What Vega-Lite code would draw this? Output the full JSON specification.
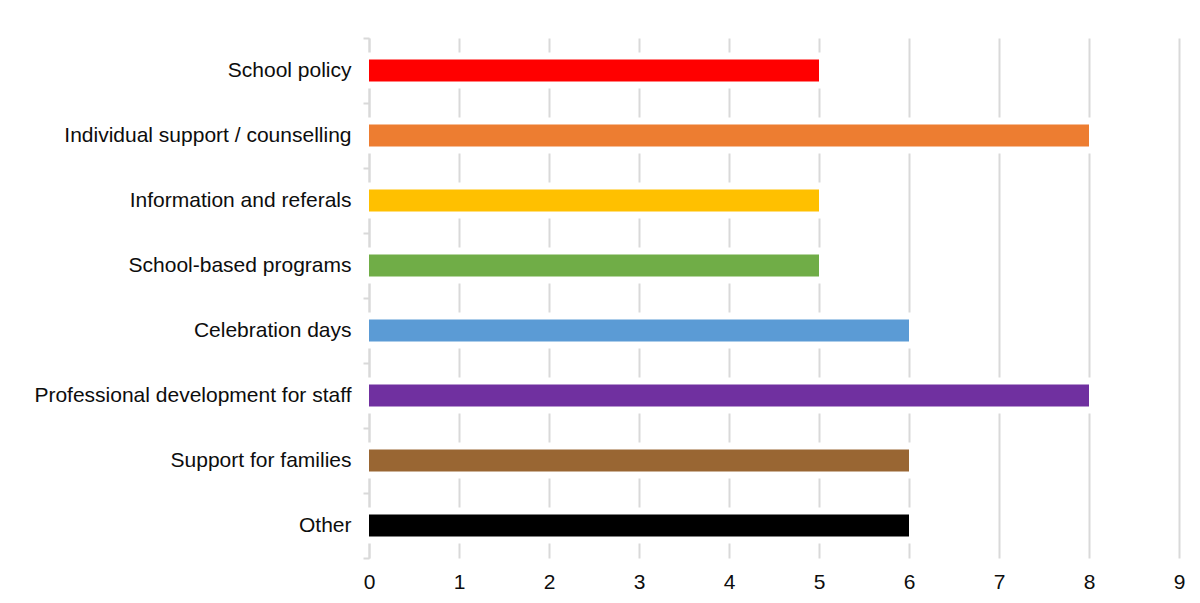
{
  "$schema": "https://vega.github.io/schema/vega-lite/v6.json",
  "width": 810,
  "height": 520,
  "autosize": {"type": "none"},
  "padding": {"left": 369, "top": 38, "right": 21, "bottom": 45},
  "background": "white",
  "config": {
    "view": {"stroke": null},
    "font": "Liberation Sans"
  },
  "data": {
    "values": [
      {"category": "School policy", "value": 5, "color": "#FF0000"},
      {"category": "Individual support / counselling", "value": 8, "color": "#ED7D31"},
      {"category": "Information and referals", "value": 5, "color": "#FFC000"},
      {"category": "School-based programs", "value": 5, "color": "#70AD47"},
      {"category": "Celebration days", "value": 6, "color": "#5B9BD5"},
      {"category": "Professional development for staff", "value": 8, "color": "#7030A0"},
      {"category": "Support for families", "value": 6, "color": "#996633"},
      {"category": "Other", "value": 6, "color": "#000000"}
    ]
  },
  "encoding": {
    "y": {
      "field": "category",
      "type": "nominal",
      "sort": null,
      "scale": {"paddingInner": 0, "paddingOuter": 0},
      "axis": {
        "title": null,
        "tickBand": "extent",
        "domainColor": "#d9d9d9",
        "domainWidth": 2,
        "tickColor": "#d9d9d9",
        "tickWidth": 2,
        "tickSize": 6,
        "labelFontSize": 21,
        "labelColor": "#0d0d0d",
        "labelPadding": 12,
        "labelLimit": 400,
        "grid": false
      }
    },
    "x": {
      "field": "value",
      "type": "quantitative",
      "scale": {"domain": [0, 9], "nice": false},
      "axis": {
        "title": null,
        "values": [0, 1, 2, 3, 4, 5, 6, 7, 8, 9],
        "grid": true,
        "gridColor": "#d9d9d9",
        "gridWidth": 2,
        "domain": false,
        "ticks": false,
        "labelFlush": false,
        "labelFontSize": 21,
        "labelColor": "#0d0d0d",
        "labelPadding": 13,
        "format": "d"
      }
    }
  },
  "layer": [
    {
      "mark": {"type": "bar", "size": 30, "color": "white", "stroke": "white", "strokeWidth": 6}
    },
    {
      "mark": {"type": "bar", "size": 22},
      "encoding": {
        "color": {"field": "color", "type": "nominal", "scale": null, "legend": null}
      }
    }
  ]
}
